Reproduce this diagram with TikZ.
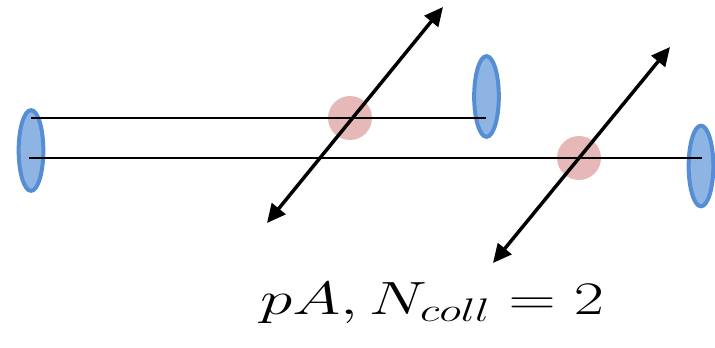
\RequirePackage{fix-cm}
\documentclass[tikz,border=0pt]{standalone}
\usetikzlibrary{shapes.geometric,arrows.meta}
\definecolor{beamfill}{HTML}{8EB4E3}
\definecolor{beamedge}{HTML}{558ED5}
\definecolor{hitfill}{HTML}{E6B9B8}
\tikzset{
  nucleus/.style={ellipse,draw=beamedge,fill=beamfill,line width=3pt,
    minimum width=18.5pt,minimum height=60.5pt,inner sep=0pt},
  collision/.style={circle,fill=hitfill,minimum size=33pt,inner sep=0pt},
  track/.style={line width=1.6pt},
  product/.style={line width=2.6pt,<->,>={Triangle[length=14pt,width=13pt]}},
}
\begin{document}
\begin{tikzpicture}[x=0.75pt,y=-0.75pt]
  \useasboundingbox (0,0) rectangle (715,347);
  % nucleons
  \node[nucleus] (projA) at (31,150.5) {};
  \node[nucleus] (targA) at (486.5,96.5) {};
  \node[nucleus] (targB) at (701,166) {};
  % collision points
  \node[collision] (hitA) at (350,118) {};
  \node[collision] (hitB) at (579,158) {};
  % tracks
  \coordinate (inA) at (31,118);
  \coordinate (outA) at (486,118);
  \coordinate (inB) at (29,158);
  \coordinate (outB) at (702,158);
  \draw[track] (inA) -- (outA);
  \draw[track] (inB) -- (outB);
  % produced particles
  \coordinate (lowA) at (267,223);
  \coordinate (upA) at (443,7);
  \coordinate (lowB) at (493,263);
  \coordinate (upB) at (670,47);
  \draw[product] (lowA) -- (upA);
  \draw[product] (lowB) -- (upB);
  \node[anchor=base,font=\fontsize{35}{42}\selectfont,xscale=1.4] (label) at (432,314)
    {$pA, N_{coll} = 2$};
\end{tikzpicture}
\end{document}
